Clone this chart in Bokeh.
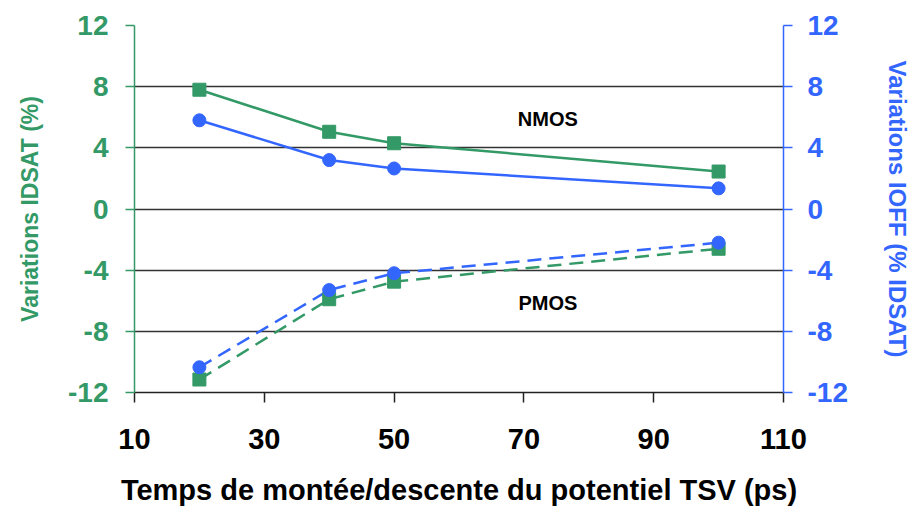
from bokeh.plotting import figure
from bokeh.models import Range1d, LinearAxis, FixedTicker, Label
from bokeh.embed import file_html
from bokeh.resources import INLINE

# data
x_ps = [20, 40, 50, 100]
nmos_idsat = [7.8, 5.05, 4.3, 2.45]
nmos_ioff = [5.8, 3.2, 2.65, 1.35]
pmos_idsat = [-11.15, -5.9, -4.75, -2.6]
pmos_ioff = [-10.35, -5.3, -4.2, -2.2]
y_ticks = [-12, -8, -4, 0, 4, 8, 12]
x_ticks = [10, 30, 50, 70, 90, 110]

GREEN = "#339966"
BLUE = "#3366FF"
FONT = "Liberation Sans"

X0, X1, Y0, Y1 = 10, 110, -12, 12
FW, FH = 650, 367          # frame size in px
PX_X = FW / (X1 - X0)
PX_Y = FH / (Y1 - Y0)

p = figure(width=913, height=510, output_backend="svg", toolbar_location=None,
           x_range=Range1d(X0, X1), y_range=Range1d(Y0, Y1),
           min_border_left=134, min_border_right=913 - 134 - FW,
           min_border_top=25, min_border_bottom=510 - 25 - FH)
p.extra_y_ranges = {"r": Range1d(Y0, Y1)}
p.outline_line_color = None
p.xgrid.visible = False
p.ygrid.ticker = FixedTicker(ticks=[-8, -4, 0, 4, 8])
p.ygrid.grid_line_color = "#333333"
p.ygrid.grid_line_width = 1.5

overrides = {t: str(t) for t in y_ticks}

# bottom axis
xa = p.xaxis[0]
xa.ticker = FixedTicker(ticks=x_ticks)
xa.axis_line_color = "#222222"
xa.axis_line_width = 1.5
xa.major_tick_line_color = "#222222"
xa.major_tick_line_width = 1.5
xa.major_tick_out = 10
xa.major_tick_in = 0
xa.minor_tick_line_color = None
xa.major_label_text_font = FONT
xa.major_label_text_font_style = "bold"
xa.major_label_text_font_size = "29px"
xa.major_label_text_color = "black"
xa.major_label_standoff = 26
xa.axis_label = "Temps de montée/descente du potentiel TSV (ps)"
xa.axis_label_text_font = FONT
xa.axis_label_text_font_style = "bold"
xa.axis_label_text_font_size = "29px"
xa.axis_label_text_color = "black"
xa.axis_label_standoff = 22

# left axis
ya = p.yaxis[0]
ya.ticker = FixedTicker(ticks=y_ticks)
ya.major_label_overrides = overrides
ya.axis_line_color = GREEN
ya.axis_line_width = 1.5
ya.major_tick_line_color = GREEN
ya.major_tick_line_width = 1.5
ya.major_tick_out = 9
ya.major_tick_in = 0
ya.minor_tick_line_color = None
ya.major_label_text_font = FONT
ya.major_label_text_font_style = "bold"
ya.major_label_text_font_size = "28px"
ya.major_label_text_color = GREEN
ya.major_label_standoff = 17
ya.axis_label = "Variations IDSAT (%)"
ya.axis_label_text_font = FONT
ya.axis_label_text_font_style = "bold"
ya.axis_label_text_font_size = "23px"
ya.axis_label_text_color = GREEN
ya.axis_label_standoff = 22

# right axis
ra = LinearAxis(y_range_name="r", ticker=FixedTicker(ticks=y_ticks))
ra.major_label_overrides = overrides
ra.axis_line_color = BLUE
ra.axis_line_width = 1.5
ra.major_tick_line_color = BLUE
ra.major_tick_line_width = 1.5
ra.major_tick_out = 9
ra.major_tick_in = 0
ra.minor_tick_line_color = None
ra.major_label_text_font = FONT
ra.major_label_text_font_style = "bold"
ra.major_label_text_font_size = "28px"
ra.major_label_text_color = BLUE
ra.major_label_standoff = 15
ra.axis_label = "Variations IOFF (% IDSAT)"
ra.axis_label_text_font = FONT
ra.axis_label_text_font_style = "bold"
ra.axis_label_text_font_size = "24px"
ra.axis_label_text_color = BLUE
ra.axis_label_standoff = 33
p.add_layout(ra, "right")

# series
p.line(x_ps, nmos_idsat, line_color=GREEN, line_width=2.5)
p.line(x_ps, nmos_ioff, line_color=BLUE, line_width=2.5, y_range_name="r")
p.line(x_ps, pmos_idsat, line_color=GREEN, line_width=2.5, line_dash="14 8")
p.line(x_ps, pmos_ioff, line_color=BLUE, line_width=2.5, line_dash="14 8", y_range_name="r")
p.scatter(x_ps, nmos_idsat, marker="square", size=13, fill_color=GREEN, line_color=GREEN)
p.scatter(x_ps, pmos_idsat, marker="square", size=13, fill_color=GREEN, line_color=GREEN)
p.scatter(x_ps, nmos_ioff, marker="circle", size=13, fill_color=BLUE, line_color=BLUE, y_range_name="r")
p.scatter(x_ps, pmos_ioff, marker="circle", size=13, fill_color=BLUE, line_color=BLUE, y_range_name="r")

# in-plot annotations
p.add_layout(Label(x=X0 + (548 - 134) / PX_X, y=Y1 - (118 - 25) / PX_Y, text="NMOS",
                   text_align="center", text_baseline="middle",
                   text_font=FONT, text_font_size="20px", text_font_style="bold", text_color="black"))
p.add_layout(Label(x=X0 + (548 - 134) / PX_X, y=Y1 - (302 - 25) / PX_Y, text="PMOS",
                   text_align="center", text_baseline="middle",
                   text_font=FONT, text_font_size="20px", text_font_style="bold", text_color="black"))

open("out.html", "w").write(file_html(p, INLINE))
